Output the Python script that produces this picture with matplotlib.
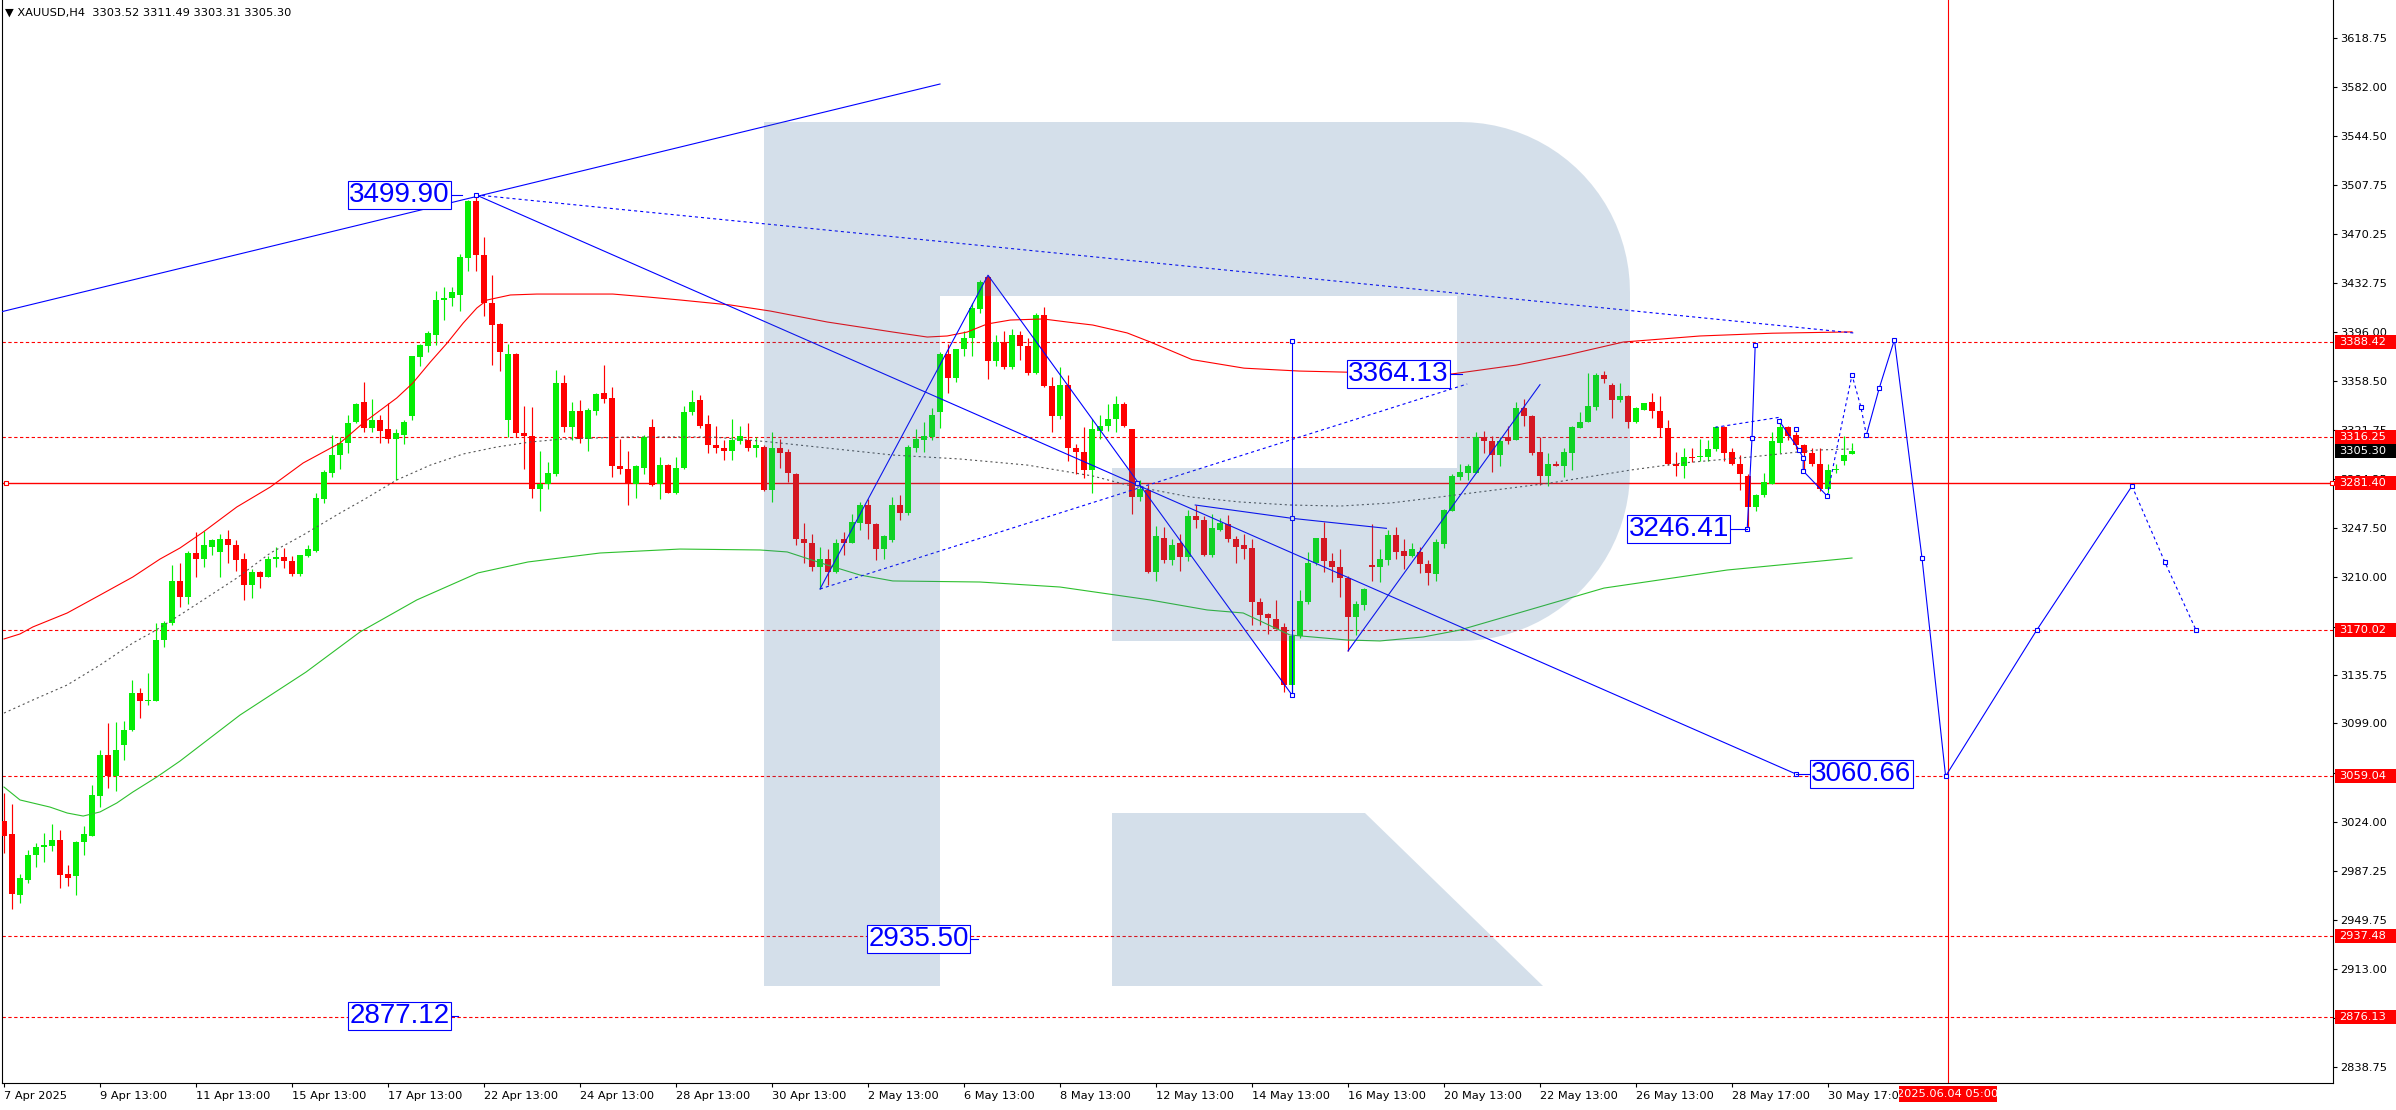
import numpy as np
import matplotlib
matplotlib.use('Agg')
import matplotlib.pyplot as plt
from matplotlib.patches import Rectangle, PathPatch
from matplotlib.path import Path
from matplotlib.transforms import Affine2D, blended_transform_factory

plt.rcParams['font.family'] = ['DejaVu Sans']
plt.rcParams['lines.scale_dashes'] = False

# XAUUSD H4 candles, 7 Apr 2025 13:00 .. 30 May 2025 21:00
opens = [3025, 3015, 2969, 2980, 2999, 3005, 3006, 3011, 2985, 2983,
         3009, 3014, 3044, 3075, 3059, 3083, 3094, 3122, 3116, 3116,
         3162, 3175, 3207, 3195, 3228, 3224, 3233, 3229, 3239, 3234,
         3224, 3204, 3214, 3210, 3224, 3225, 3222, 3212, 3226, 3230,
         3269, 3289, 3303, 3312, 3328, 3343, 3323, 3329, 3322, 3315,
         3318, 3332, 3377, 3385, 3394, 3420, 3422, 3424, 3452, 3495,
         3454, 3418, 3402, 3329, 3379, 3319, 3317, 3277, 3281, 3288,
         3357, 3324, 3336, 3315, 3336, 3350, 3346, 3294, 3292, 3281,
         3293, 3324, 3281, 3295, 3274, 3293, 3335, 3344, 3326, 3310,
         3308, 3306, 3313, 3314, 3308, 3309, 3276, 3308, 3305, 3288,
         3239, 3236, 3218, 3224, 3214, 3239, 3236, 3251, 3265, 3250,
         3231, 3238, 3265, 3259, 3308, 3314, 3316, 3335, 3379, 3361,
         3383, 3391, 3413, 3438, 3374, 3388, 3369, 3394, 3385, 3365,
         3409, 3355, 3332, 3356, 3308, 3305, 3291, 3321, 3325, 3330,
         3341, 3322, 3271, 3276, 3214, 3240, 3223, 3236, 3225, 3256,
         3253, 3227, 3246, 3250, 3239, 3234, 3232, 3191, 3182, 3178,
         3172, 3128, 3165, 3191, 3221, 3240, 3222, 3218, 3209, 3180,
         3189, 3219, 3218, 3223, 3242, 3230, 3226, 3229, 3220, 3212,
         3235, 3260, 3286, 3289, 3289, 3316, 3313, 3303, 3316, 3314,
         3338, 3332, 3305, 3287, 3296, 3294, 3304, 3323, 3328, 3339,
         3363, 3356, 3344, 3347, 3328, 3337, 3343, 3336, 3323, 3296,
         3294, 3301, 3301, 3301, 3307, 3324, 3305, 3296, 3287, 3263,
         3272, 3281, 3312, 3324, 3318, 3310, 3304, 3296, 3277, 3291,
         3298, 3303.52]
highs = [3046, 3038, 2985, 3003, 3008, 3016, 3023, 3018, 2992, 3010,
         3021, 3052, 3079, 3099, 3100, 3101, 3132, 3126, 3137, 3175,
         3177, 3219, 3221, 3230, 3244, 3245, 3239, 3243, 3246, 3238,
         3228, 3216, 3215, 3226, 3233, 3232, 3226, 3227, 3234, 3274,
         3291, 3318, 3316, 3333, 3342, 3358, 3345, 3333, 3342, 3322,
         3329, 3378, 3387, 3397, 3427, 3430, 3430, 3455, 3496, 3500,
         3468, 3439, 3403, 3387, 3380, 3340, 3339, 3306, 3297, 3367,
         3363, 3343, 3344, 3338, 3350, 3371, 3354, 3315, 3306, 3295,
         3318, 3330, 3301, 3296, 3301, 3340, 3352, 3348, 3333, 3325,
         3314, 3330, 3325, 3327, 3316, 3310, 3320, 3315, 3307, 3289,
         3251, 3243, 3233, 3231, 3239, 3244, 3258, 3267, 3269, 3251,
         3242, 3271, 3272, 3310, 3322, 3328, 3338, 3381, 3387, 3383,
         3397, 3418, 3435, 3439, 3394, 3397, 3398, 3397, 3391, 3410,
         3415, 3362, 3369, 3363, 3311, 3324, 3330, 3333, 3341, 3347,
         3343, 3322, 3284, 3280, 3249, 3248, 3239, 3243, 3261, 3265,
         3256, 3258, 3255, 3257, 3241, 3243, 3239, 3194, 3183, 3193,
         3175, 3167, 3200, 3229, 3240, 3252, 3228, 3231, 3211, 3192,
         3202, 3250, 3231, 3246, 3248, 3239, 3236, 3233, 3223, 3239,
         3262, 3288, 3296, 3296, 3320, 3321, 3317, 3316, 3325, 3343,
         3345, 3333, 3316, 3304, 3298, 3308, 3325, 3335, 3365, 3365,
         3366, 3357, 3357, 3348, 3339, 3342, 3350, 3347, 3329, 3305,
         3308, 3308, 3315, 3314, 3325, 3325, 3308, 3303, 3288, 3273,
         3289, 3320, 3331, 3325, 3320, 3311, 3308, 3308, 3296, 3296,
         3317, 3311.49]
lows = [3001, 2958, 2963, 2978, 2990, 2994, 3002, 2974, 2976, 2969,
        2999, 3014, 3036, 3050, 3048, 3071, 3093, 3103, 3113, 3116,
        3157, 3174, 3187, 3190, 3210, 3218, 3227, 3210, 3221, 3215,
        3193, 3194, 3202, 3210, 3218, 3217, 3211, 3211, 3225, 3229,
        3266, 3286, 3292, 3304, 3327, 3320, 3320, 3312, 3312, 3284,
        3311, 3329, 3370, 3381, 3386, 3405, 3416, 3412, 3442, 3442,
        3408, 3371, 3366, 3316, 3316, 3292, 3270, 3260, 3277, 3287,
        3320, 3314, 3312, 3306, 3333, 3342, 3286, 3288, 3265, 3270,
        3288, 3279, 3269, 3274, 3273, 3292, 3333, 3323, 3304, 3304,
        3299, 3299, 3311, 3306, 3301, 3275, 3267, 3293, 3282, 3234,
        3221, 3215, 3201, 3204, 3213, 3227, 3236, 3246, 3239, 3223,
        3224, 3237, 3253, 3257, 3305, 3305, 3314, 3323, 3350, 3358,
        3378, 3378, 3410, 3360, 3370, 3368, 3368, 3375, 3363, 3364,
        3354, 3320, 3330, 3298, 3288, 3285, 3274, 3315, 3321, 3320,
        3324, 3258, 3268, 3213, 3207, 3221, 3219, 3215, 3222, 3247,
        3226, 3225, 3245, 3237, 3221, 3224, 3174, 3174, 3167, 3171,
        3123, 3121, 3164, 3190, 3219, 3214, 3206, 3195, 3154, 3166,
        3185, 3207, 3206, 3219, 3224, 3216, 3225, 3213, 3204, 3207,
        3232, 3260, 3284, 3284, 3289, 3304, 3290, 3294, 3311, 3314,
        3325, 3303, 3280, 3279, 3294, 3286, 3291, 3323, 3328, 3337,
        3357, 3331, 3343, 3323, 3327, 3337, 3331, 3316, 3295, 3287,
        3285, 3297, 3298, 3298, 3306, 3298, 3295, 3276, 3246.41, 3260,
        3271, 3281, 3304, 3314, 3307, 3292, 3294, 3275, 3274, 3289,
        3295, 3303.31]
closes = [3014, 2970, 2982, 2999, 3005, 3007, 3011, 2984, 2982, 3009,
          3015, 3045, 3075, 3059, 3079, 3094, 3122, 3116, 3117, 3162,
          3175, 3207, 3195, 3228, 3224, 3234, 3238, 3239, 3234, 3223,
          3204, 3214, 3210, 3224, 3225, 3222, 3212, 3227, 3231, 3270,
          3290, 3303, 3312, 3327, 3341, 3323, 3329, 3321, 3315, 3319,
          3328, 3378, 3386, 3395, 3420, 3422, 3426, 3453, 3495, 3454,
          3418, 3401, 3381, 3379, 3319, 3317, 3277, 3281, 3289, 3357,
          3324, 3336, 3315, 3337, 3349, 3345, 3294, 3292, 3281, 3294,
          3316, 3280, 3295, 3274, 3293, 3335, 3343, 3325, 3310, 3308,
          3306, 3314, 3317, 3308, 3310, 3276, 3308, 3304, 3289, 3239,
          3236, 3218, 3224, 3214, 3236, 3236, 3252, 3265, 3250, 3231,
          3241, 3265, 3259, 3309, 3315, 3317, 3333, 3379, 3361, 3383,
          3391, 3414, 3434, 3374, 3388, 3369, 3394, 3385, 3365, 3409,
          3355, 3332, 3356, 3308, 3305, 3291, 3322, 3325, 3330, 3341,
          3325, 3271, 3277, 3214, 3241, 3223, 3234, 3225, 3256, 3253,
          3227, 3247, 3251, 3239, 3233, 3231, 3191, 3181, 3179, 3171,
          3128, 3165, 3192, 3221, 3240, 3222, 3218, 3209, 3180, 3190,
          3201, 3218, 3224, 3242, 3229, 3226, 3231, 3220, 3213, 3237,
          3261, 3287, 3290, 3294, 3316, 3313, 3303, 3313, 3313, 3338,
          3332, 3304, 3287, 3296, 3294, 3305, 3324, 3328, 3340, 3363,
          3360, 3344, 3347, 3328, 3338, 3342, 3336, 3323, 3296, 3294,
          3301, 3300, 3302, 3307, 3324, 3304, 3296, 3288, 3263, 3272,
          3282, 3313, 3324, 3317, 3310, 3304, 3296, 3277, 3291, 3292,
          3303, 3305.30]

# moving averages (bar index, price)
red_ma_x = [0, 2, 3.6, 7.9, 12, 16.1, 19.5, 22, 24.9, 29.1, 33.3, 37.4, 42, 44.9, 49.1,
            51.1, 53.3, 55.4, 57.4, 59.1, 60.4, 63.3, 66.6, 76.1, 80.4, 84.5, 90.8, 95.8,
            102.9, 111.1, 115.4, 117.9, 120.4, 122.9, 125.8, 129.9, 132.9, 136.1, 140.4,
            143.3, 148.5, 155, 161.9, 171, 181, 189.1, 195.4, 202.4, 212, 221, 231]
red_ma_y = [3163.1, 3166.9, 3172.2, 3182.8, 3196.4, 3210.1, 3223.7, 3232.1, 3244.2, 3263.2,
            3278.4, 3296.6, 3311.7, 3326.9, 3345.9, 3357.2, 3373.2, 3387.6, 3402.7, 3414.1,
            3420.2, 3424.0, 3424.7, 3424.7, 3422.5, 3420.2, 3416.4, 3411.8, 3403.5, 3395.9,
            3392.1, 3392.9, 3395.9, 3402.0, 3405.0, 3405.8, 3403.5, 3401.2, 3395.2, 3388.3,
            3375.0, 3368.5, 3366.3, 3365.0, 3364.1, 3370.9, 3378.5, 3388.3, 3392.9, 3395.0,
            3396.0]
gray_ma_x = [0, 3.6, 7.9, 12, 16.1, 18.6, 22, 24.9, 29.1, 33.3, 37.4, 42, 44.9, 49.1, 53.3,
             57.4, 61.6, 65.8, 69.9, 78.3, 88.6, 95.8, 102.9, 111.1, 119.5, 127.9, 136.1,
             140.4, 148.3, 154.5, 160.8, 167, 173.3, 179.5, 193.3, 203.3, 209.9, 218.3,
             226.6, 231]
gray_ma_y = [3106.9, 3116.8, 3128.2, 3143.3, 3160.0, 3168.4, 3181.3, 3192.7, 3209.3, 3228.3,
             3242.0, 3258.6, 3268.5, 3283.7, 3295.0, 3303.4, 3308.7, 3312.5, 3314.8, 3316.3,
             3316.3, 3312.5, 3307.9, 3302.6, 3299.6, 3295.0, 3286.7, 3279.9, 3270.8, 3267.0,
             3264.7, 3263.9, 3266.2, 3270.8, 3281.4, 3291.2, 3296.6, 3301.1, 3306.4, 3307.2]
green_ma_x = [0, 2, 5.75, 7.9, 9.9, 12, 14.1, 16.1, 19.1, 22, 29.5, 37.75, 44.5, 51.6, 59.25,
              65.5, 74.5, 84.5, 94.5, 97.9, 102.9, 107, 111.1, 122, 132, 143.25, 150.4,
              154.9, 160.75, 167.9, 172, 177.4, 182, 200, 215.4, 231]
green_ma_y = [3050.8, 3041.0, 3035.6, 3031.1, 3028.8, 3031.9, 3038.7, 3047.0, 3058.4, 3070.5,
              3105.4, 3138.0, 3168.4, 3192.7, 3213.2, 3221.5, 3228.3, 3231.3, 3230.6, 3229.1,
              3219.2, 3211.6, 3207.1, 3206.3, 3202.5, 3192.7, 3185.1, 3182.8, 3166.1, 3162.3,
              3161.6, 3164.6, 3169.9, 3201.7, 3215.4, 3224.5]

# horizontal levels
dashed_levels = [3388.42, 3316.25, 3170.02, 3059.04, 2937.48, 2876.13]
solid_level = 3281.40
price_boxes = [(3388.42, '#ff0000'), (3316.25, '#ff0000'), (3305.30, '#000000'),
               (3281.40, '#ff0000'), (3170.02, '#ff0000'), (3059.04, '#ff0000'),
               (2937.48, '#ff0000'), (2876.13, '#ff0000')]

# analysis objects (bar index, price)
solid_paths = [
    ([-0.5, 117], [3411, 3584]),
    ([59, 224], [3499.9, 3060.66]),
    ([102, 123, 161], [3201, 3439, 3120.6]),
    ([161, 161], [3120.6, 3389]),
    ([148.9, 161, 172.8], [3264.7, 3254.6, 3247]),
    ([168, 192], [3154, 3356]),
    ([217.9, 218.5, 218.9], [3246.41, 3315.3, 3386.1]),
    ([221.9, 224.4, 224.9, 224.9, 227.9], [3328.6, 3306.4, 3300.1, 3290.5, 3271.5]),
    ([232.8, 234.4, 236.3, 239.75, 242.7, 254.1, 266],
     [3317.8, 3353.2, 3390, 3224.5, 3059.04, 3169.9, 3279.1]),
]
dotted_paths = [
    ([59, 231.5], [3499.9, 3395]),
    ([102, 182.9], [3201, 3356.5]),
    ([213.9, 221.9], [3323.6, 3331.2]),
    ([227.9, 229.4, 231.0, 232.1, 232.8], [3271.5, 3316.5, 3363.3, 3339.3, 3317.8]),
    ([266, 270.1, 274], [3279.1, 3221.5, 3169.9]),
]
square_x = [59, 224, 161, 161, 161, 141.6, 217.9, 218.5, 218.9, 221.9, 224.0, 224.4, 224.9,
            224.9, 227.9, 231.0, 232.1, 232.8, 234.4, 236.3, 239.75, 242.7, 254.1, 266,
            270.1, 274]
square_y = [3499.9, 3060.66, 3120.6, 3254.6, 3389, 3281.4, 3246.41, 3315.3, 3386.1, 3328.6,
            3322.1, 3306.4, 3300.1, 3290.5, 3271.5, 3363.3, 3339.3, 3317.8, 3353.2, 3390,
            3224.5, 3059.04, 3169.9, 3279.1, 3221.5, 3169.9]
# text, box edge (bar index), price, side, connector end
price_labels = [('3499.90', 55.7, 3499.90, 'right', 57.3),
                ('3364.13', 180.6, 3364.13, 'right', 182.2),
                ('3246.41', 215.6, 3246.41, 'right', 217.9),
                ('3060.66', 225.9, 3060.66, 'left', 224.0),
                ('2935.50', 120.6, 2935.50, 'right', 121.8),
                ('2877.12', 55.7, 2877.12, 'right', 56.8)]

yticks = [3618.75, 3582.00, 3544.50, 3507.75, 3470.25, 3432.75, 3396.00, 3358.50, 3321.75,
          3284.25, 3247.50, 3210.00, 3172.50, 3135.75, 3099.00, 3061.50, 3024.00, 2987.25,
          2949.75, 2913.00, 2875.50, 2838.75]
xtick_pos = [0, 12, 24, 36, 48, 60, 72, 84, 96, 108, 120, 132, 144, 156, 168, 180, 192,
             204, 216, 228]
xtick_labels = ['7 Apr 2025', '9 Apr 13:00', '11 Apr 13:00', '15 Apr 13:00', '17 Apr 13:00',
                '22 Apr 13:00', '24 Apr 13:00', '28 Apr 13:00', '30 Apr 13:00', '2 May 13:00',
                '6 May 13:00', '8 May 13:00', '12 May 13:00', '14 May 13:00', '16 May 13:00',
                '20 May 13:00', '22 May 13:00', '26 May 13:00', '28 May 17:00', '30 May 17:00']
future_bar = 243
future_label = '2025.06.04 05:00'
title = '\u25BC XAUUSD,H4  3303.52 3311.49 3303.31 3305.30'

BULL = '#05ee05'
BEAR = '#ff0000'
RED = '#ff0000'
BLUE = '#0000ff'

W, H = 2396, 1110
AW, AH = 2331, 1083          # plot area in pixels
fig = plt.figure(figsize=(W / 100, H / 100), dpi=100, facecolor='white')
ax = fig.add_axes([2 / W, (H - AH) / H, AW / W, AH / H])
ax.set_xlim(-0.25, 291.125)
ax.set_ylim(2826.33, 3647.72)
ppd = AH / (3647.72 - 2826.33)   # pixels per dollar

# candles
o, hi, lo, c = (np.array(v, dtype=float) for v in (opens, highs, lows, closes))
x = np.arange(len(o))
up = c >= o
for mask, col in [(up, BULL), (~up, BEAR)]:
    ax.vlines(x[mask], lo[mask], hi[mask], color=col, lw=0.85, zorder=3)
    ax.bar(x[mask], np.maximum(np.abs(c - o), 0.9)[mask], bottom=np.minimum(o, c)[mask],
           width=0.64, color=col, lw=0, zorder=3)

# moving averages
ax.plot(red_ma_x, red_ma_y, color=RED, lw=0.8, zorder=4)
ax.plot(gray_ma_x, gray_ma_y, color='#555555', lw=0.8, ls=(0, (1.5, 2.2)), zorder=4)
ax.plot(green_ma_x, green_ma_y, color='#2ec02e', lw=0.8, zorder=4)

# levels
for v in dashed_levels:
    ax.axhline(v, color=RED, lw=0.8, ls=(0, (2.4, 1.8)), zorder=2)
ax.axhline(solid_level, color=RED, lw=1.0, zorder=2)
ax.plot([0.2, 291.0], [solid_level] * 2, 's', ms=3.5, mfc='white', mec=RED, mew=0.8,
        zorder=4, clip_on=False, ls='none')
ax.axvline(future_bar, color=RED, lw=0.8, zorder=2)

# analysis objects
for xs, ys in solid_paths:
    ax.plot(xs, ys, color=BLUE, lw=0.8, zorder=5)
for xs, ys in dotted_paths:
    ax.plot(xs, ys, color=BLUE, lw=0.8, ls=(0, (2.2, 2.2)), zorder=5)
ax.plot(square_x, square_y, 's', ms=3.2, mfc='white', mec=BLUE, mew=0.8, ls='none', zorder=6)

# watermark logo (pixel geometry of the plot area)
px = Affine2D().translate(-2, -AH).scale(1 / AW, -1 / AH) + ax.transAxes
t = np.linspace(0, np.pi / 2, 24)
r = 170
arc1 = np.column_stack([1460 + r * np.sin(t), 292 - r * np.cos(t)])
arc2 = np.column_stack([1460 + r * np.cos(t), 471 + r * np.sin(t)])
body = np.vstack([[[764, 122]], arc1, arc2,
                  [[1112, 641], [1112, 468], [1457, 468], [1457, 296], [940, 296],
                   [940, 986], [764, 986], [764, 122]]])
leg = np.array([[1112, 813], [1365, 813], [1543, 986], [1112, 986], [1112, 813]])
for poly in (body, leg):
    ax.add_patch(PathPatch(Path(poly), transform=px, fc=(60 / 255, 110 / 255, 160 / 255),
                           alpha=0.215, ec='none', zorder=7))

# price labels
for text, xe, v, side, xc in price_labels:
    ax.plot([xe, xc], [v, v], color=BLUE, lw=0.8, zorder=8)
    ax.text(xe, v, text, ha=side, va='center', fontsize=20, family='Liberation Sans',
            color=BLUE, zorder=9,
            bbox=dict(boxstyle='square,pad=0.04', fc='white', ec=BLUE, lw=0.8))

# axes styling
for s in ('left', 'bottom', 'right'):
    ax.spines[s].set_linewidth(0.8)
    ax.spines[s].set_color('black')
ax.spines['top'].set_visible(False)

ax.yaxis.tick_right()
ax.set_yticks(yticks)
ax.set_yticklabels([f'{v:.2f}' for v in yticks])
ax.tick_params(axis='y', direction='out', length=3, width=0.8, pad=2.5, labelsize=8.2)
ax.set_xticks(xtick_pos)
ax.set_xticklabels(xtick_labels, ha='left')
ax.tick_params(axis='x', direction='out', length=3, width=0.8, pad=3, labelsize=8.2)

tr = blended_transform_factory(ax.transAxes, ax.transData)
box_h = 14 / ppd
for v, fc in price_boxes:
    ax.add_patch(Rectangle((1 + 2 / AW, v - box_h / 2), 61 / AW, box_h, transform=tr,
                           fc=fc, ec='none', clip_on=False, zorder=10))
    ax.text(1 + 6 / AW, v, f'{v:.2f}', transform=tr, color='white', fontsize=8.2,
            va='center', ha='left', clip_on=False, zorder=11)

trx = blended_transform_factory(ax.transData, ax.transAxes)
ax.add_patch(Rectangle((future_bar - 6.1, -19 / AH), 12.2, 16 / AH, transform=trx,
                       fc=RED, ec='none', clip_on=False, zorder=10))
ax.text(future_bar, -11 / AH, future_label, transform=trx, color='white', fontsize=8.2,
        ha='center', va='center', clip_on=False, zorder=11)

fig.text(5 / W, 1 - 12.5 / H, title, fontsize=8.2, ha='left', va='center')

fig.savefig('out.png', dpi=100, facecolor='white')
